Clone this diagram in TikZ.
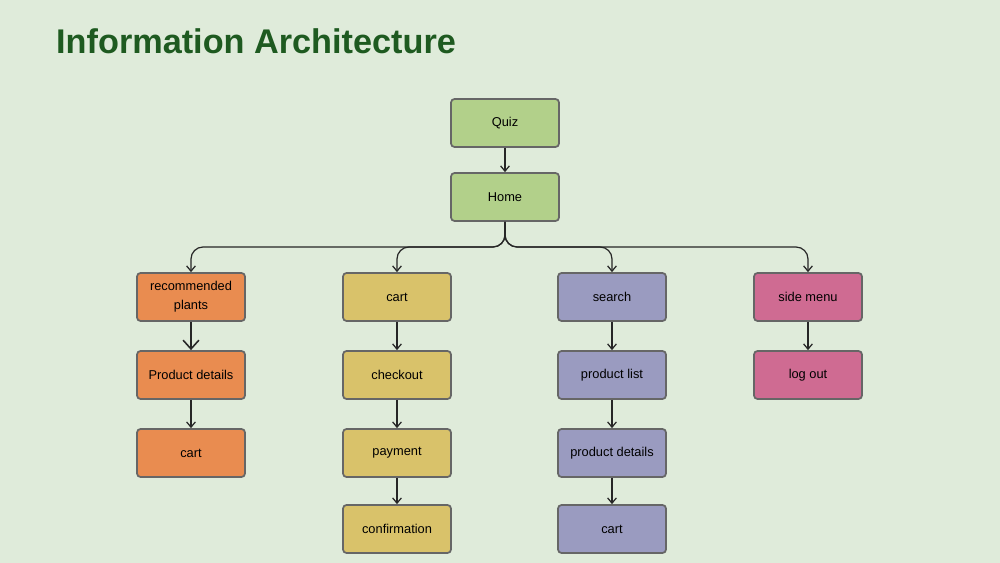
\documentclass[tikz,border=0pt]{standalone}
\usepackage{fontspec}
\setmainfont{Liberation Sans}
\usetikzlibrary{arrows.meta}
\definecolor{bg}{HTML}{DFEBDA}
\definecolor{cgreen}{HTML}{B2D08A}
\definecolor{corange}{HTML}{E98C50}
\definecolor{cyellow}{HTML}{D9C26A}
\definecolor{cpurple}{HTML}{9A9BC0}
\definecolor{cpink}{HTML}{CF6B92}
\definecolor{ctitle}{HTML}{1E5A20}
\begin{document}
\begin{tikzpicture}[x=0.02cm,y=-0.02cm,
 box/.style={draw=black!60,line width=1pt,rounded corners=2pt,minimum width=2.16cm,minimum height=0.96cm,align=center,font=\fontsize{7.3}{11}\selectfont,inner sep=1pt},
 arr/.style={-{Straight Barb[length=3pt,width=5pt]},line width=0.7pt,black!85},
 br/.style={arr,rounded corners=0.24cm}]
\fill[bg] (0,0) rectangle (1000,563);
\node[anchor=west,text=ctitle,font=\fontsize{19.5}{22}\selectfont\bfseries] (title) at (50,41) {Information Architecture};
\node[box,fill=cgreen] (quiz) at (505,123) {Quiz};
\node[box,fill=cgreen] (home) at (505,197) {Home};
\node[box,fill=corange] (a1) at (191,297) {recommended\\plants};
\node[box,fill=corange] (a2) at (191,375) {Product details};
\node[box,fill=corange] (a3) at (191,453) {cart};
\node[box,fill=cyellow] (b1) at (397,297) {cart};
\node[box,fill=cyellow] (b2) at (397,375) {checkout};
\node[box,fill=cyellow] (b3) at (397,453) {payment};
\node[box,fill=cyellow] (b4) at (397,529) {confirmation};
\node[box,fill=cpurple] (c1) at (612,297) {search};
\node[box,fill=cpurple] (c2) at (612,375) {product list};
\node[box,fill=cpurple] (c3) at (612,453) {product details};
\node[box,fill=cpurple] (c4) at (612,529) {cart};
\node[box,fill=cpink] (d1) at (808,297) {side menu};
\node[box,fill=cpink] (d2) at (808,375) {log out};
\draw[arr] (quiz) -- (home);
\coordinate (bus) at (505,247);
\foreach \t in {a1,b1,c1,d1}{\draw[br] (home.south) -- (bus) -| (\t.north);}
\draw[-{Straight Barb[length=5pt,width=9pt]},line width=0.9pt,black!85] (a1) -- (a2);
\foreach \s/\t in {a2/a3,b1/b2,b2/b3,b3/b4,c1/c2,c2/c3,c3/c4,d1/d2}{\draw[arr] (\s) -- (\t);}
\end{tikzpicture}
\end{document}
